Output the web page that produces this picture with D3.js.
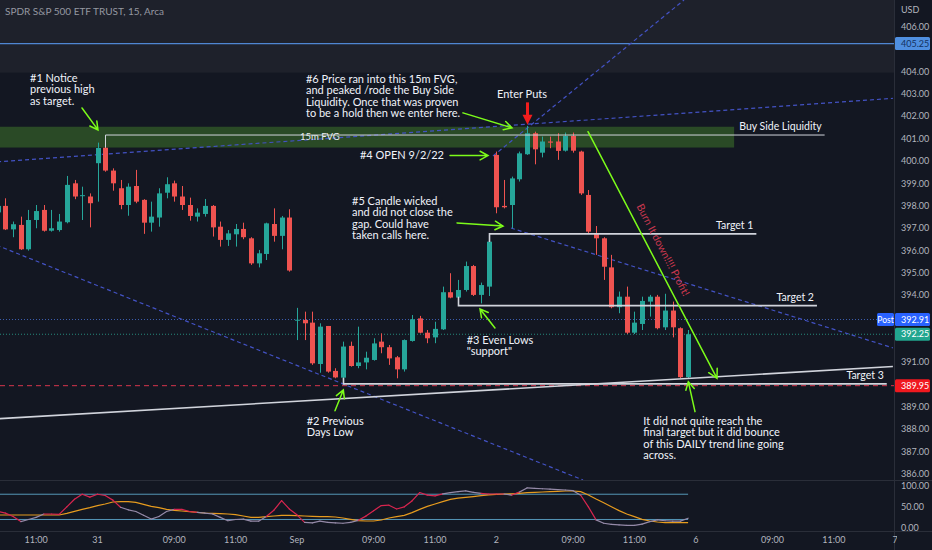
<!DOCTYPE html>
<html>
<head>
<meta charset="utf-8">
<script src="https://cdn.jsdelivr.net/npm/d3@7"></script>
<style>
  html, body { margin: 0; padding: 0; background: #131722; overflow: hidden; }
  svg { display: block; }
  text { font-family: Lato, "Noto Sans", sans-serif; }
</style>
</head>
<body>
<svg id="chart" width="932" height="550"></svg>
<script>
// SPY 15m bars, Aug 30 (partial) .. Sep 2 2022
var opens = [397.70,397.99,396.94,397.14,396.05,397.36,397.81,396.88,396.91,397.26,399.00,398.44,398.41,
  399.90,400.59,399.57,398.78,398.03,398.88,398.26,397.24,397.47,398.58,399.00,398.41,398.03,397.51,397.63,397.99,397.06,396.47,396.72,396.96,396.54,395.42,395.84,397.18,396.65,397.47,
  392.88,392.89,392.77,390.92,392.62,390.61,390.31,391.73,390.83,390.99,391.10,391.92,391.67,391.22,390.68,391.95,392.96,392.32,392.11,392.47,394.13,393.89,394.23,395.30,394.01,394.38,
  400.27,397.99,398.03,399.18,400.30,401.24,400.37,400.87,400.87,400.46,401.12,400.42,398.48,396.74,396.54,395.24,393.46,393.93,392.32,392.71,393.71,393.93,392.56,393.31,392.52,390.33]
var highs = [398.05,398.33,397.29,397.51,397.81,398.03,398.03,397.81,397.63,399.33,399.15,398.85,398.55,
  400.82,400.67,399.67,399.15,399.00,399.60,398.29,398.18,398.78,399.27,399.12,398.88,398.36,397.88,398.30,398.03,397.29,396.91,397.18,397.24,396.59,396.02,397.24,397.88,397.54,397.84,
  393.43,393.26,393.26,392.74,392.62,390.73,391.92,391.92,392.59,391.47,392.07,392.29,391.77,391.28,392.02,393.11,393.07,392.44,392.81,394.38,394.98,394.68,395.50,395.35,394.56,396.76,
  400.42,399.15,399.30,400.42,401.57,401.31,401.09,401.09,401.24,401.27,401.27,400.46,398.70,397.09,396.59,395.80,394.16,394.38,393.26,393.93,394.01,394.01,394.06,393.71,392.56,392.44]
var lows = [397.60,396.91,396.59,396.02,395.99,396.99,396.84,396.84,396.84,397.21,398.29,397.36,397.03,
  398.18,399.52,398.67,397.84,397.55,398.11,396.74,396.84,397.06,398.33,398.18,397.81,397.33,397.29,397.51,396.62,396.17,396.20,396.17,396.50,395.35,395.24,395.57,396.39,396.05,395.05,
  391.99,391.99,390.88,390.53,390.53,390.28,390.06,390.80,390.73,390.68,391.07,391.40,390.88,390.28,390.58,391.92,392.29,391.85,391.85,392.44,393.86,393.51,394.16,393.96,393.63,393.96,
  397.66,397.88,396.99,399.08,400.27,399.85,400.16,400.57,400.05,400.42,400.37,398.48,396.77,395.80,394.68,393.41,393.19,392.26,392.26,392.44,393.04,392.47,392.44,392.11,390.28,390.28]
var closes = [397.99,396.94,397.17,396.05,397.36,397.76,396.88,396.99,397.29,398.93,398.41,398.47,398.11,
  400.58,399.57,399.00,398.03,398.85,398.18,397.24,397.51,398.55,398.96,398.41,398.03,397.54,397.69,397.99,397.03,396.47,396.76,396.96,396.59,395.42,395.87,397.21,396.65,397.47,395.10,
  392.90,392.74,390.95,392.59,390.58,390.32,391.70,390.83,390.99,391.20,391.84,391.67,391.17,390.68,391.99,392.92,392.32,392.07,392.49,394.13,393.89,394.23,395.30,394.01,394.45,396.39,
  397.93,397.93,399.22,400.34,401.24,400.52,400.87,400.82,400.45,401.12,400.46,398.55,396.84,396.54,395.27,393.46,393.93,392.32,392.77,393.74,393.93,392.52,393.31,392.56,390.33,392.25]

var rsi = [39,35,27,15,20,25,33,33,32,50,68,80,73,80,77,66,49,43,39,30,21,27,39,44,44,39,37,35,33,25,
  17,20,21,16,16,27,42,65,45,31,13,12,16,13,12,11,13,18,28,41,53,54,45,50,64,84,78,76,81,84,
  86,88,84.5,82,80.5,80.5,80.5,78,85,95,94,93,92,91,90,88.5,77.5,50,19,11,8.5,7,6,6,9,15,19,17,16,16,23]
var rsiMa = [30.6,30.6,30.6,30.6,30.6,30.6,30.6,30.6,30.6,34.6,39.4,44.1,48.1,52.8,56.8,61.5,62.3,62.3,60.7,
  56.0,51.2,48.1,44.1,41.7,40.1,38.6,37.0,35.4,34.6,33.8,33.0,31.4,28.3,25.1,25.1,26.7,28.3,29.9,29.9,
  29.1,28.3,27.5,26.7,26.7,25.9,23.5,20.4,17.2,16.4,16.4,18.8,23.5,26.7,29.9,36.2,44.1,51.2,56.8,62.3,
  67.9,70.5,72.5,74.5,76.5,78.5,79.7,80.5,80.8,82.1,83.7,84.5,85.3,86.1,86.9,87.7,87.7,86.1,78.2,68.7,
  59.9,50.4,41.0,33.0,26.7,20.4,16.4,14.0,12.4,12.4,12.4,12.4]

// time axis: [bar index, label]
var timeTicks = [[5,'11:00'],[13,'31'],[23,'09:00'],[31,'11:00'],[39,'Sep'],[49,'09:00'],[57,'11:00'],
  [65,'2'],[75,'09:00'],[83,'11:00'],[91,'6'],[101,'09:00'],[109,'11:00'],[117,'7']]
var priceTicks = d3.range(386, 407, 1)
var rsiTicks = [0, 50, 100]

// price levels
var resistance = 405.25
var postPrice = 392.91
var lastPrice = 392.25
var stopLevel = 389.95
var fvg = { from: -3, to: 96, lo: 400.60, hi: 401.53 }
var topZone = 403.95

// drawn levels: [start bar, end bar, price, tick-end price, label]
var levels = [
  [14, 107.8, 401.16, 400.60, 'Buy Side Liquidity'],
  [64, 98.9, 396.74, 396.38, 'Target 1'],
  [60, 106.8, 393.53, 393.93, 'Target 2'],
  [45, 115.9, 390.03, 390.30, 'Target 3']
]
// trend lines: [[bar, price], [bar, price]]
var dashedTrends = [
  [[-1, 396.35], [76.3, 385.73]],
  [[-1, 399.94], [116.7, 402.80]],
  [[64.56, 400.22], [89.47, 407.2]],
  [[66.91, 397.0], [116.7, 391.64]]
]
var dailyTrend = [[-1, 388.45], [116.7, 390.81]]

// green arrows: [from, to]
var arrows = [
  [[10.98, 402.37], [13.06, 401.39]],
  [[60.65, 402.15], [67.04, 401.48]],
  [[58.96, 400.24], [63.91, 400.24]],
  [[59.87, 397.23], [65.87, 397.09]],
  [[64.82, 392.53], [62.87, 393.38]],
  [[43.96, 388.83], [45.05, 389.76]],
  [[90.90, 388.79], [90.03, 390.13]]
]
var burnArrow = [[76.95, 401.31], [93.77, 390.28]]
var putsArrow = [[69, 402.62], [69, 401.62]]

var notes = [
  { at: [4.2, 403.53], lines: ['#1 Notice', 'previous high', 'as target.'] },
  { at: [40.18, 403.49], lines: ['#6 Price ran into this 15m FVG,', 'and peaked /rode the Buy Side', 'Liquidity. Once that was proven', 'to be a hold then we enter here.'] },
  { at: [47.22, 400.09], lines: ['#4 OPEN 9/2/22'] },
  { at: [46.18, 398.03], lines: ['#5 Candle wicked', 'and did not close the', 'gap. Could have', 'taken calls here.'] },
  { at: [61.13, 391.82], lines: ['#3 Even Lows', '"support"'] },
  { at: [40.27, 388.19], lines: ['#2 Previous', 'Days Low'] },
  { at: [84.16, 388.19], lines: ['It did not quite reach the', 'final target but it did bounce', 'of this DAILY trend line going', 'across.'] }
]

var W = 932, H = 550, axisX = 894, mainB = 480, rsiB = 531
var svg = d3.select('#chart')

var x = d3.scaleLinear().domain([0, 90]).range([-2.2, 688.1])
var y = d3.scaleLinear().domain([386, 406]).range([474, 26.8])
var yr = d3.scaleLinear().domain([0, 100]).range([527.9, 485.8])

var defs = svg.append('defs')
defs.append('clipPath').attr('id', 'mainClip').append('rect')
  .attr('x', 0).attr('y', 0).attr('width', axisX).attr('height', mainB)
defs.append('clipPath').attr('id', 'rsiClip').append('rect')
  .attr('x', 0).attr('y', mainB).attr('width', axisX).attr('height', rsiB - mainB)
defs.append('clipPath').attr('id', 'timeClip').append('rect')
  .attr('x', 0).attr('y', rsiB).attr('width', axisX + 3).attr('height', H - rsiB)

svg.append('rect').attr('width', W).attr('height', H).attr('fill', '#131722')

var main = svg.append('g').attr('clip-path', 'url(#mainClip)')

// grey zone at the top and the FVG box
main.append('rect').attr('x', 0).attr('y', 0).attr('width', axisX)
  .attr('height', y(topZone)).attr('fill', '#1e212b')
main.append('rect')
  .attr('x', x(fvg.from)).attr('width', x(fvg.to) - x(fvg.from))
  .attr('y', y(fvg.hi)).attr('height', y(fvg.lo) - y(fvg.hi))
  .attr('fill', '#2a4a26')

// horizontal price lines
main.append('line').attr('x1', 0).attr('x2', axisX)
  .attr('y1', y(resistance)).attr('y2', y(resistance))
  .attr('stroke', '#4f86d2').attr('stroke-width', 1.2)
main.append('line').attr('x1', 0).attr('x2', axisX)
  .attr('y1', y(postPrice)).attr('y2', y(postPrice))
  .attr('stroke', '#3d5fb0').attr('stroke-dasharray', '1 2')
main.append('line').attr('x1', 0).attr('x2', axisX)
  .attr('y1', y(lastPrice)).attr('y2', y(lastPrice))
  .attr('stroke', '#268a7c').attr('stroke-dasharray', '1 2')
main.append('line').attr('x1', 0).attr('x2', axisX)
  .attr('y1', y(stopLevel)).attr('y2', y(stopLevel))
  .attr('stroke', '#d5354d').attr('stroke-dasharray', '5 4')

// dashed trend lines
main.selectAll('.trend').data(dashedTrends).enter().append('line')
  .attr('x1', function (d) { return x(d[0][0]) })
  .attr('y1', function (d) { return y(d[0][1]) })
  .attr('x2', function (d) { return x(d[1][0]) })
  .attr('y2', function (d) { return y(d[1][1]) })
  .attr('stroke', '#4352c4').attr('stroke-width', 1.2).attr('stroke-dasharray', '4 3')

// candles
var bars = main.append('g')
d3.range(opens.length).forEach(function (i) {
  var up = closes[i] >= opens[i]
  var col = up ? '#26a69a' : '#ef5350'
  var cx = Math.round(x(i)) + 0.5
  bars.append('line').attr('x1', cx).attr('x2', cx)
    .attr('y1', y(highs[i])).attr('y2', y(lows[i])).attr('stroke', col)
  var top = y(Math.max(opens[i], closes[i]))
  var bot = y(Math.min(opens[i], closes[i]))
  bars.append('rect').attr('x', cx - 2.5).attr('width', 5)
    .attr('y', top).attr('height', Math.max(1, bot - top)).attr('fill', col)
})

// white level lines with the little bracket at the start
levels.forEach(function (l) {
  var x0 = Math.round(x(l[0])) + 0.5
  main.append('path')
    .attr('d', 'M' + x0 + ',' + y(l[3]) + 'L' + x0 + ',' + y(l[2]) + 'L' + x(l[1]) + ',' + y(l[2]))
    .attr('fill', 'none').attr('stroke', '#d1d4dc').attr('stroke-width', l[0] === 14 ? 1 : 1.6)
  main.append('text').attr('x', x(l[1]) - 3).attr('y', y(l[2]) - 5)
    .attr('text-anchor', 'end').attr('fill', '#f0f3fa').attr('font-size', 10.5).text(l[4])
})

main.append('line')
  .attr('x1', x(dailyTrend[0][0])).attr('y1', y(dailyTrend[0][1]))
  .attr('x2', x(dailyTrend[1][0])).attr('y2', y(dailyTrend[1][1]))
  .attr('stroke', '#d1d4dc').attr('stroke-width', 1.6)

main.append('text').attr('x', x(39.4)).attr('y', y(400.94))
  .attr('fill', '#e8eaf0').attr('font-size', 9.5).text('15m FVG')

// arrows
function arrow (a, b, col, w, len) {
  var x1 = x(a[0]), y1 = y(a[1]), x2 = x(b[0]), y2 = y(b[1])
  var ang = Math.atan2(y2 - y1, x2 - x1), s = 0.5
  var p = d3.path()
  p.moveTo(x1, y1); p.lineTo(x2, y2)
  p.moveTo(x2 - len * Math.cos(ang - s), y2 - len * Math.sin(ang - s))
  p.lineTo(x2, y2)
  p.lineTo(x2 - len * Math.cos(ang + s), y2 - len * Math.sin(ang + s))
  main.append('path').attr('d', p.toString()).attr('fill', 'none')
    .attr('stroke', col).attr('stroke-width', w).attr('stroke-linecap', 'round')
}
arrows.forEach(function (a) { arrow(a[0], a[1], '#7cfc1a', 1.5, 9) })
arrow(burnArrow[0], burnArrow[1], '#7cfc1a', 1.5, 10)

// "Burn it down" label along the big arrow
var bx1 = x(burnArrow[0][0]), by1 = y(burnArrow[0][1])
var bx2 = x(burnArrow[1][0]), by2 = y(burnArrow[1][1])
var bAng = Math.atan2(by2 - by1, bx2 - bx1) * 180 / Math.PI
var bmx = bx1 + (bx2 - bx1) * 0.48 + 13, bmy = by1 + (by2 - by1) * 0.48
main.append('text').attr('transform', 'translate(' + bmx + ',' + bmy + ') rotate(' + bAng + ')')
  .attr('text-anchor', 'middle').attr('dy', 3.5)
  .attr('fill', '#c9384f').attr('font-size', 10.5).text('Burn It down!!!! Profit!')

// red "Enter Puts" arrow
var px = Math.round(x(putsArrow[0][0])) + 0.5
main.append('line').attr('x1', px).attr('x2', px)
  .attr('y1', y(putsArrow[0][1])).attr('y2', y(putsArrow[1][1]) - 9)
  .attr('stroke', '#f21d1d').attr('stroke-width', 3)
main.append('path')
  .attr('d', 'M' + (px - 5) + ',' + (y(putsArrow[1][1]) - 10) + 'L' + (px + 5) + ',' + (y(putsArrow[1][1]) - 10) +
    'L' + px + ',' + y(putsArrow[1][1]) + 'Z')
  .attr('fill', '#f21d1d')
main.append('text').attr('x', x(68.35)).attr('y', y(402.80)).attr('text-anchor', 'middle')
  .attr('fill', '#f0f3fa').attr('font-size', 11).text('Enter Puts')

// notes
notes.forEach(function (n) {
  var t = main.append('text').attr('x', x(n.at[0])).attr('y', y(n.at[1]))
    .attr('fill', '#f0f3fa').attr('font-size', 11)
  n.lines.forEach(function (s, k) {
    t.append('tspan').attr('x', x(n.at[0])).attr('dy', k ? 11.3 : 0).text(s)
  })
})

// RSI pane
var rsiG = svg.append('g').attr('clip-path', 'url(#rsiClip)')
;[80, 20].forEach(function (v) {
  rsiG.append('line').attr('x1', 0).attr('x2', x(90)).attr('y1', yr(v)).attr('y2', yr(v))
    .attr('stroke', '#5597b8').attr('stroke-width', 1)
})
rsiG.append('path').datum(rsiMa)
  .attr('d', d3.line().x(function (d, i) { return x(i) }).y(function (d) { return yr(d) }))
  .attr('fill', 'none').attr('stroke', '#e69b1e').attr('stroke-width', 1.2)
d3.range(rsi.length - 1).forEach(function (i) {
  var mid = (rsi[i] + rsi[i + 1]) / 2
  var ma = (rsiMa[i] + rsiMa[i + 1]) / 2
  var hot = mid > 20 && mid < 82 && (mid > ma || rsi[i + 1] - rsi[i] < -10)
  rsiG.append('line')
    .attr('x1', x(i)).attr('y1', yr(rsi[i])).attr('x2', x(i + 1)).attr('y2', yr(rsi[i + 1]))
    .attr('stroke', hot ? '#d8254f' : '#958aa8').attr('stroke-width', 1.2).attr('stroke-linecap', 'round')
})

// separators
svg.append('line').attr('x1', axisX + 0.5).attr('x2', axisX + 0.5).attr('y1', 0).attr('y2', H)
  .attr('stroke', '#2a2e39')
svg.append('line').attr('x1', 0).attr('x2', W).attr('y1', mainB + 0.5).attr('y2', mainB + 0.5)
  .attr('stroke', '#2a2e39')
svg.append('line').attr('x1', 0).attr('x2', W).attr('y1', rsiB + 0.5).attr('y2', rsiB + 0.5)
  .attr('stroke', '#2a2e39')

// price axis (ticks hidden where a price badge sits)
var axisCol = '#b2b5be'
var badgePrices = [resistance, postPrice, lastPrice, stopLevel]
svg.append('text').attr('x', 901).attr('y', 13).attr('fill', axisCol).attr('font-size', 9).text('USD')
svg.selectAll('.ptick')
  .data(priceTicks.filter(function (d) {
    return badgePrices.every(function (b) { return Math.abs(y(d) - y(b)) > 12 })
  }))
  .enter().append('text')
  .attr('x', 901).attr('y', function (d) { return y(d) + 3.2 })
  .attr('fill', axisCol).attr('font-size', 9).text(function (d) { return d.toFixed(2) })
svg.selectAll('.rtick').data(rsiTicks).enter().append('text')
  .attr('x', 901).attr('y', function (d) { return yr(d) + 3.2 })
  .attr('fill', axisCol).attr('font-size', 9).text(function (d) { return d.toFixed(2) })

function badge (price, fill, col) {
  var by = y(price)
  svg.append('rect').attr('x', axisX + 1).attr('y', by - 6.5).attr('width', W - axisX - 3).attr('height', 13)
    .attr('rx', 1.5).attr('fill', fill)
  svg.append('text').attr('x', 901).attr('y', by + 3.2).attr('fill', col)
    .attr('font-size', 9).text(price.toFixed(2))
}
badge(resistance, '#4f8fe0', '#14325f')
badge(postPrice, '#2962ff', '#ffffff')
badge(lastPrice, '#22a68f', '#ffffff')
badge(stopLevel, '#f0191f', '#ffffff')
svg.append('rect').attr('x', axisX - 17).attr('y', y(postPrice) - 6.5).attr('width', 17).attr('height', 13)
  .attr('rx', 1.5).attr('fill', '#2962ff')
svg.append('text').attr('x', axisX - 8.5).attr('y', y(postPrice) + 3.2).attr('text-anchor', 'middle')
  .attr('fill', '#ffffff').attr('font-size', 8.5).text('Post')

// time axis
svg.append('g').attr('clip-path', 'url(#timeClip)')
  .selectAll('text').data(timeTicks).enter().append('text')
  .attr('x', function (d) { return x(d[0]) }).attr('y', 543)
  .attr('text-anchor', 'middle').attr('fill', axisCol).attr('font-size', 9)
  .text(function (d) { return d[1] })

// header
svg.append('text').attr('x', 5).attr('y', 15).attr('fill', '#9598a1').attr('font-size', 10)
  .text('SPDR S&P 500 ETF TRUST, 15, Arca')
</script>
</body>
</html>
